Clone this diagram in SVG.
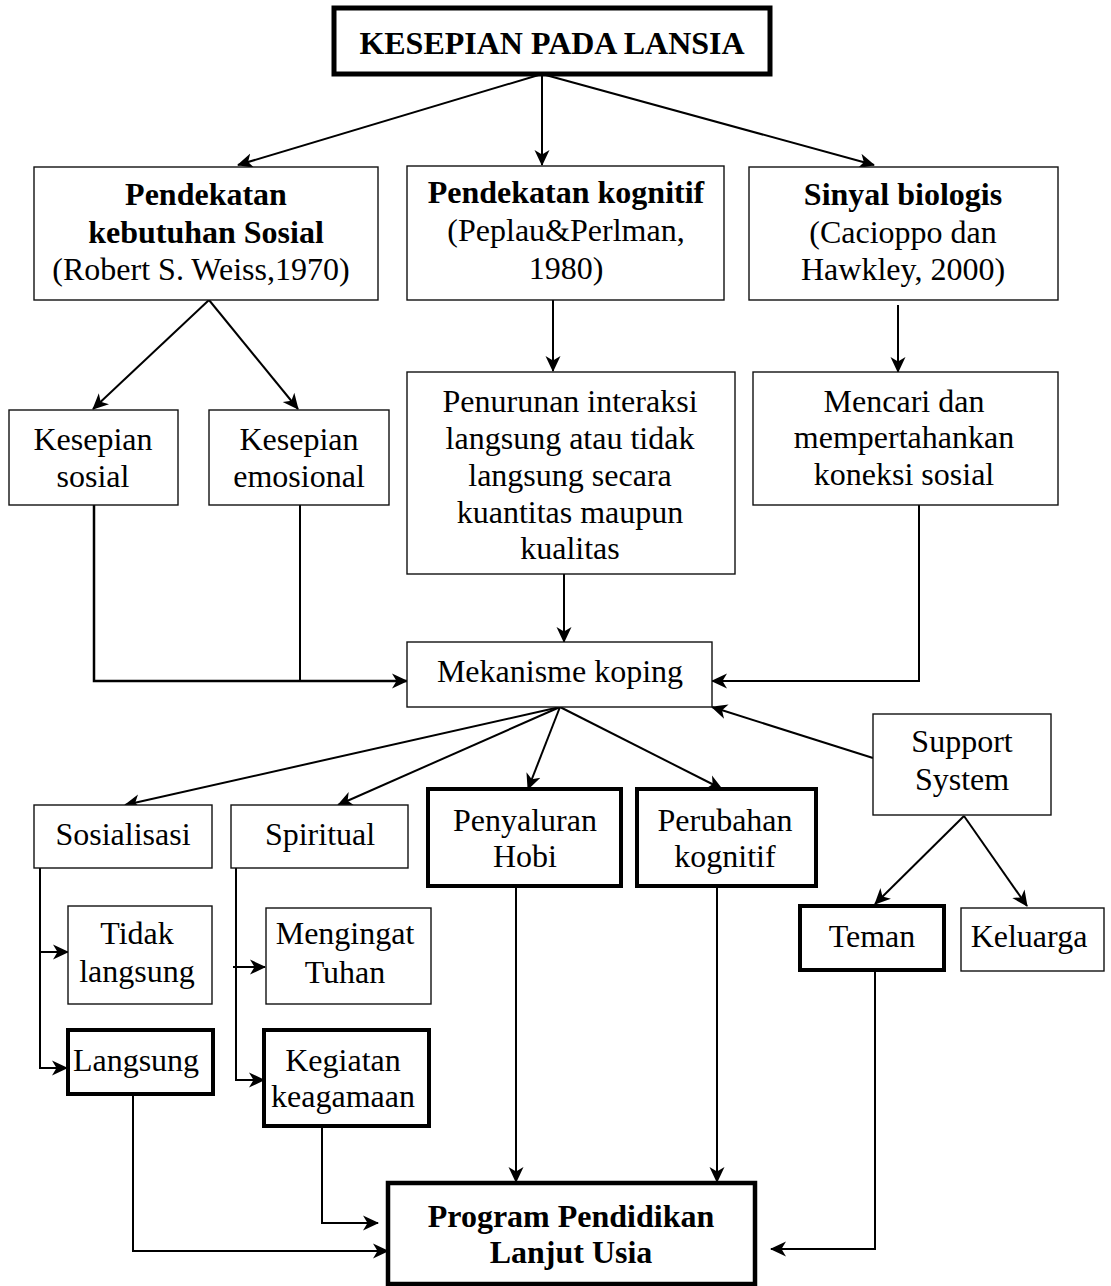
<svg xmlns="http://www.w3.org/2000/svg" width="1111" height="1286" viewBox="0 0 1111 1286">
  <style>
    text { font-family: "Liberation Serif", "Times New Roman", serif; font-size: 32px; fill: #000; text-anchor: middle; }
    .b { font-weight: bold; }
    .box { fill: #fff; stroke: #111; stroke-width: 1.4; }
    .thick { fill: #fff; stroke: #000; stroke-width: 4; }
    .title { fill: #fff; stroke: #000; stroke-width: 5; }
    .con { fill: none; stroke: #000; stroke-width: 2; }
    .arr { marker-end: url(#head); }
  </style>
  <defs>
    <marker id="head" viewBox="0 0 16 16" markerWidth="16" markerHeight="16" refX="15" refY="8" orient="auto" markerUnits="userSpaceOnUse">
      <path d="M0,0.5 L16,8 L0,15.5 L4.5,8 z" fill="#000"/>
    </marker>
  </defs>

  <rect width="1111" height="1286" fill="#fff"/>

  <!-- connectors -->
  <g id="connectors">
    <line class="con arr" x1="542" y1="74" x2="238" y2="165"/>
    <line class="con arr" x1="542" y1="74" x2="542" y2="165"/>
    <line class="con arr" x1="542" y1="74" x2="874" y2="165"/>

    <line class="con arr" x1="209" y1="300" x2="93" y2="409"/>
    <line class="con arr" x1="209" y1="300" x2="298" y2="409"/>
    <line class="con arr" x1="553" y1="300" x2="553" y2="371"/>
    <line class="con arr" x1="898" y1="305" x2="898" y2="372"/>

    <polyline class="con arr" style="stroke-width:2.5" points="94,505 94,681 407,681"/>
    <line class="con" x1="300" y1="505" x2="300" y2="681"/>
    <line class="con arr" x1="564" y1="574" x2="564" y2="642"/>
    <polyline class="con arr" points="919,505 919,681 712,681"/>
    <line class="con arr" x1="873" y1="758" x2="712" y2="707"/>

    <line class="con arr" x1="560" y1="707" x2="125" y2="805"/>
    <line class="con arr" x1="560" y1="707" x2="338" y2="805"/>
    <line class="con arr" x1="560" y1="707" x2="528" y2="789"/>
    <line class="con arr" x1="560" y1="707" x2="722" y2="789"/>

    <line class="con arr" x1="964" y1="816" x2="875" y2="904"/>
    <line class="con arr" x1="964" y1="816" x2="1027" y2="906"/>

    <polyline class="con arr" points="40,868 40,1068 67,1068"/>
    <line class="con arr" x1="40" y1="952" x2="68" y2="952"/>
    <polyline class="con arr" points="236,868 236,1080 264,1080"/>
    <line class="con arr" x1="233" y1="967" x2="265" y2="967"/>

    <line class="con arr" x1="516" y1="886" x2="516" y2="1182"/>
    <line class="con arr" x1="717" y1="886" x2="717" y2="1182"/>
    <polyline class="con arr" points="133,1094 133,1251 388,1251"/>
    <polyline class="con arr" points="322,1126 322,1223 378,1223"/>
    <polyline class="con arr" points="875,972 875,1249 771,1249"/>
  </g>

  <!-- nodes -->
  <g id="kesepian-lansia">
    <rect class="title" x="334" y="8" width="436" height="66"/>
    <text class="b" x="552" y="54">KESEPIAN PADA LANSIA</text>
  </g>

  <g id="kebutuhan-sosial">
    <rect class="box" x="34" y="167" width="344" height="133"/>
    <text class="b" x="206" y="205">Pendekatan</text>
    <text class="b" x="206" y="243">kebutuhan Sosial</text>
    <text x="201" y="280">(Robert S. Weiss,1970)</text>
  </g>

  <g id="pendekatan-kognitif">
    <rect class="box" x="407" y="166" width="317" height="134"/>
    <text class="b" x="566" y="203">Pendekatan kognitif</text>
    <text x="566" y="241">(Peplau&amp;Perlman,</text>
    <text x="566" y="279">1980)</text>
  </g>

  <g id="sinyal-biologis">
    <rect class="box" x="749" y="167" width="309" height="133"/>
    <text class="b" x="903" y="205">Sinyal biologis</text>
    <text x="903" y="243">(Cacioppo dan</text>
    <text x="903" y="280">Hawkley, 2000)</text>
  </g>

  <g id="kesepian-sosial">
    <rect class="box" x="9" y="410" width="169" height="95"/>
    <text x="93" y="450">Kesepian</text>
    <text x="93" y="487">sosial</text>
  </g>

  <g id="kesepian-emosional">
    <rect class="box" x="209" y="410" width="180" height="95"/>
    <text x="299" y="450">Kesepian</text>
    <text x="299" y="487">emosional</text>
  </g>

  <g id="penurunan-interaksi">
    <rect class="box" x="407" y="372" width="328" height="202"/>
    <text x="570" y="412">Penurunan interaksi</text>
    <text x="570" y="449">langsung atau tidak</text>
    <text x="570" y="486">langsung secara</text>
    <text x="570" y="523">kuantitas maupun</text>
    <text x="570" y="559">kualitas</text>
  </g>

  <g id="mencari-koneksi">
    <rect class="box" x="753" y="372" width="305" height="133"/>
    <text x="904" y="412">Mencari dan</text>
    <text x="904" y="448">mempertahankan</text>
    <text x="904" y="485">koneksi sosial</text>
  </g>

  <g id="mekanisme-koping">
    <rect class="box" x="407" y="642" width="305" height="65"/>
    <text x="560" y="682">Mekanisme koping</text>
  </g>

  <g id="support-system">
    <rect class="box" x="873" y="714" width="178" height="101"/>
    <text x="962" y="752">Support</text>
    <text x="962" y="790">System</text>
  </g>

  <g id="sosialisasi">
    <rect class="box" x="34" y="805" width="178" height="63"/>
    <text x="123" y="845">Sosialisasi</text>
  </g>

  <g id="spiritual">
    <rect class="box" x="231" y="805" width="177" height="63"/>
    <text x="320" y="845">Spiritual</text>
  </g>

  <g id="penyaluran-hobi">
    <rect class="thick" x="428" y="789" width="193" height="97"/>
    <text x="525" y="831">Penyaluran</text>
    <text x="525" y="867">Hobi</text>
  </g>

  <g id="perubahan-kognitif">
    <rect class="thick" x="637" y="789" width="179" height="97"/>
    <text x="725" y="831">Perubahan</text>
    <text x="725" y="867">kognitif</text>
  </g>

  <g id="tidak-langsung">
    <rect class="box" x="68" y="906" width="144" height="98"/>
    <text x="137" y="944">Tidak</text>
    <text x="137" y="982">langsung</text>
  </g>

  <g id="langsung">
    <rect class="thick" x="68" y="1030" width="145" height="64"/>
    <text x="136" y="1071">Langsung</text>
  </g>

  <g id="mengingat-tuhan">
    <rect class="box" x="266" y="908" width="165" height="96"/>
    <text x="345" y="944">Mengingat</text>
    <text x="345" y="983">Tuhan</text>
  </g>

  <g id="kegiatan-keagamaan">
    <rect class="thick" x="264" y="1030" width="165" height="96"/>
    <text x="343" y="1071">Kegiatan</text>
    <text x="343" y="1107">keagamaan</text>
  </g>

  <g id="teman">
    <rect class="thick" x="800" y="906" width="144" height="64"/>
    <text x="872" y="947">Teman</text>
  </g>

  <g id="keluarga">
    <rect class="box" x="961" y="908" width="143" height="63"/>
    <text x="1029" y="947">Keluarga</text>
  </g>

  <g id="program-pendidikan">
    <rect class="thick" x="388" y="1183" width="367" height="101" style="stroke-width:4.5"/>
    <text class="b" x="571" y="1227">Program Pendidikan</text>
    <text class="b" x="571" y="1263">Lanjut Usia</text>
  </g>
</svg>
